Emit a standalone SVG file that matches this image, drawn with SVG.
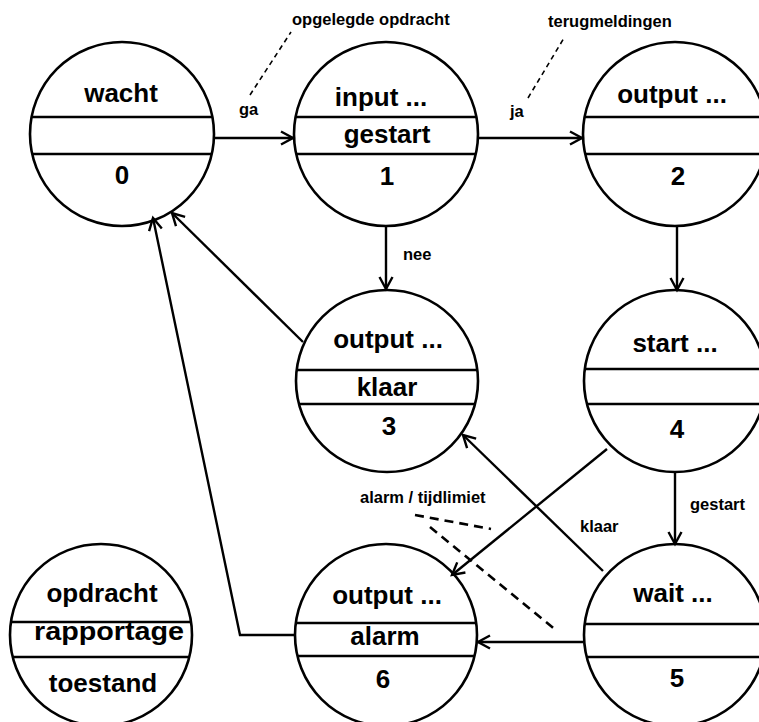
<svg xmlns="http://www.w3.org/2000/svg" width="759" height="722" viewBox="0 0 759 722">
<style>
.c{fill:none;stroke:#000;stroke-width:2.6}
.b{stroke:#000;stroke-width:2.4}
.t{font-family:"Liberation Sans",Arial,sans-serif;font-weight:bold;font-size:26px;text-anchor:middle;fill:#000}
.s{font-family:"Liberation Sans",Arial,sans-serif;font-weight:bold;font-size:16.5px;fill:#000}
.e{fill:none;stroke:#000;stroke-width:2.4;marker-end:url(#a)}
.d{fill:none;stroke:#000;stroke-width:1.6;stroke-dasharray:5 4}
.dd{fill:none;stroke:#000;stroke-width:2.6;stroke-dasharray:9 6}
</style>
<defs>
<marker id="a" markerUnits="userSpaceOnUse" markerWidth="20" markerHeight="20" viewBox="-14 -10 16 20" refX="0" refY="0" orient="auto">
<path d="M-12,-6.5 L0,0 L-12,6.5" fill="none" stroke="#000" stroke-width="2.4"/>
</marker>
</defs>
<rect width="759" height="722" fill="#fff"/>
<g id="connectors">
<line class="e" x1="214" y1="138" x2="293" y2="138"/>
<line class="e" x1="478" y1="138" x2="582" y2="138"/>
<line class="e" x1="386" y1="226" x2="386" y2="289"/>
<line class="e" x1="677" y1="226" x2="677" y2="290"/>
<line class="e" x1="675" y1="473" x2="675" y2="544"/>
<line class="e" x1="303" y1="342" x2="172" y2="213"/>
<polyline class="e" points="294,635 240,635 153,218"/>
<line class="e" x1="607" y1="449" x2="452" y2="575"/>
<line class="e" x1="603" y1="571" x2="463" y2="435"/>
<line class="e" x1="583" y1="642" x2="478" y2="642"/>
<line class="d" x1="250" y1="95" x2="291" y2="32"/>
<line class="d" x1="528" y1="98" x2="564" y2="38"/>
<line class="dd" x1="415" y1="515" x2="491" y2="529"/>
<line class="dd" x1="430" y1="527" x2="557" y2="631"/>
<text class="s" x="292" y="25">opgelegde opdracht</text>
<text class="s" x="548" y="27">terugmeldingen</text>
<text class="s" x="239" y="115">ga</text>
<text class="s" x="510" y="117">ja</text>
<text class="s" x="403" y="260">nee</text>
<text class="s" x="360" y="503">alarm / tijdlimiet</text>
<text class="s" x="580" y="532">klaar</text>
<text class="s" x="690" y="510">gestart</text>
</g>
<g id="node0">
<circle class="c" cx="122" cy="134" r="92"/>
<line class="b" x1="31.6" y1="117" x2="212.4" y2="117"/>
<line class="b" x1="32.2" y1="154" x2="211.8" y2="154"/>
<text class="t" x="121" y="102">wacht</text>
<text class="t" x="122" y="184">0</text>
</g>
<g id="node1">
<circle class="c" cx="386" cy="134" r="92"/>
<line class="b" x1="295.6" y1="117" x2="476.4" y2="117"/>
<line class="b" x1="296.2" y1="154" x2="475.8" y2="154"/>
<text class="t" x="381" y="106">input ...</text>
<text class="t" x="387" y="143">gestart</text>
<text class="t" x="387" y="185">1</text>
</g>
<g id="node2">
<circle class="c" cx="675" cy="134" r="92"/>
<line class="b" x1="584.6" y1="117" x2="765" y2="117"/>
<line class="b" x1="585.2" y1="154" x2="765" y2="154"/>
<text class="t" x="672" y="103">output ...</text>
<text class="t" x="678" y="185">2</text>
</g>
<g id="node3">
<circle class="c" cx="387" cy="381" r="91"/>
<line class="b" x1="296.5" y1="370" x2="477.5" y2="370"/>
<line class="b" x1="298.5" y1="404" x2="475.5" y2="404"/>
<text class="t" x="388" y="348">output ...</text>
<text class="t" x="387" y="396">klaar</text>
<text class="t" x="389" y="435">3</text>
</g>
<g id="node4">
<circle class="c" cx="675" cy="381" r="91"/>
<line class="b" x1="584.5" y1="369" x2="765" y2="369"/>
<line class="b" x1="586.5" y1="404" x2="765" y2="404"/>
<text class="t" x="675" y="352">start ...</text>
<text class="t" x="677" y="438">4</text>
</g>
<g id="node5">
<circle class="c" cx="675" cy="635" r="91"/>
<line class="b" x1="584.5" y1="624" x2="765" y2="624"/>
<line class="b" x1="586" y1="657" x2="765" y2="657"/>
<text class="t" x="673" y="602">wait ...</text>
<text class="t" x="677" y="687">5</text>
</g>
<g id="node6">
<circle class="c" cx="386" cy="635" r="91"/>
<line class="b" x1="295.8" y1="623" x2="476.2" y2="623"/>
<line class="b" x1="297.2" y1="656" x2="474.8" y2="656"/>
<text class="t" x="387" y="604">output ...</text>
<text class="t" x="385" y="645">alarm</text>
<text class="t" x="383" y="688">6</text>
</g>
<g id="legend">
<circle class="c" cx="101" cy="635" r="91"/>
<line class="b" x1="10.9" y1="622" x2="191.1" y2="622"/>
<line class="b" x1="12.7" y1="657" x2="189.3" y2="657"/>
<text class="t" x="102" y="602">opdracht</text>
<text class="t" x="109" y="640" textLength="150" lengthAdjust="spacingAndGlyphs">rapportage</text>
<text class="t" x="103" y="692">toestand</text>
</g>
</svg>
